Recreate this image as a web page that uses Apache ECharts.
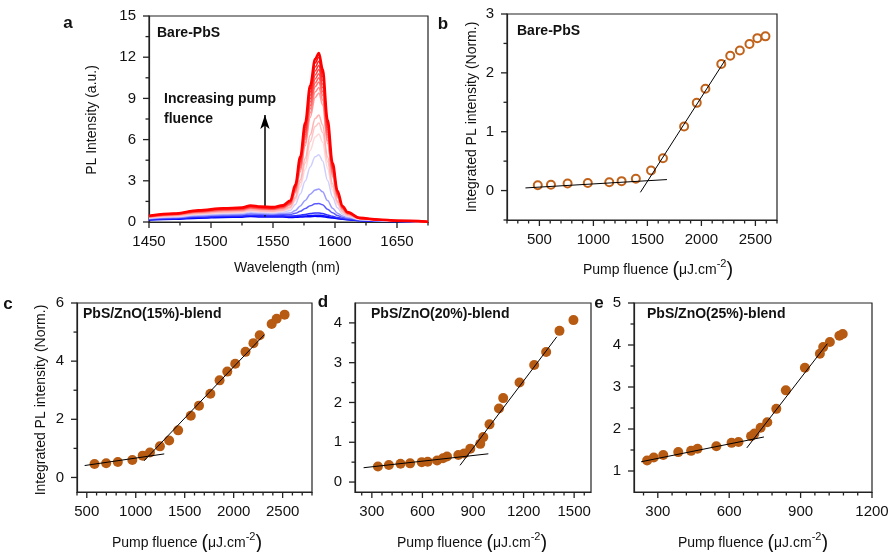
<!DOCTYPE html>
<html>
<head>
<meta charset="utf-8">
<script src="https://cdn.jsdelivr.net/npm/echarts@6/dist/echarts.min.js"></script>
<style>
  html, body { margin: 0; padding: 0; background: #ffffff; }
  #chart { width: 889px; height: 552px; }
</style>
</head>
<body>
<div id="chart"></div>
<script>
// ---- (a) PL spectra of bare PbS, lowest to highest pump fluence ----
const wavelengths = [1450,1470,1490,1510,1525,1532,1540,1550,1558,1564,1568,1572,1576,1580,1584,1587,1590,1594,1598,1602,1606,1610,1620,1635,1650,1675];
const spectra = [
  [0.15,0.20,0.28,0.33,0.35,0.40,0.37,0.36,0.36,0.33,0.34,0.36,0.38,0.39,0.41,0.40,0.39,0.33,0.29,0.24,0.20,0.17,0.10,0.06,0.03,0.01],
  [0.17,0.24,0.32,0.38,0.40,0.46,0.43,0.41,0.42,0.39,0.40,0.42,0.44,0.47,0.49,0.50,0.47,0.40,0.34,0.28,0.23,0.19,0.11,0.07,0.04,0.01],
  [0.19,0.26,0.36,0.42,0.44,0.50,0.47,0.45,0.46,0.43,0.45,0.50,0.55,0.61,0.65,0.65,0.61,0.51,0.41,0.33,0.26,0.21,0.13,0.08,0.04,0.01],
  [0.23,0.31,0.43,0.50,0.53,0.60,0.56,0.54,0.56,0.55,0.63,0.78,0.98,1.18,1.32,1.35,1.25,0.93,0.67,0.47,0.35,0.27,0.15,0.09,0.05,0.01],
  [0.25,0.34,0.47,0.55,0.58,0.66,0.62,0.59,0.63,0.65,0.83,1.17,1.57,2.02,2.33,2.40,2.20,1.56,1.01,0.64,0.43,0.32,0.17,0.10,0.06,0.01],
  [0.28,0.38,0.53,0.62,0.65,0.74,0.69,0.67,0.72,0.84,1.27,2.04,2.98,4.01,4.75,4.90,4.45,3.03,1.82,1.03,0.59,0.40,0.19,0.11,0.06,0.01],
  [0.31,0.42,0.58,0.68,0.71,0.82,0.76,0.73,0.81,0.97,1.54,2.57,3.83,5.21,6.19,6.40,5.81,3.92,2.31,1.27,0.70,0.46,0.20,0.12,0.07,0.01],
  [0.32,0.45,0.61,0.72,0.76,0.86,0.81,0.78,0.86,1.05,1.70,2.86,4.29,5.85,6.95,7.20,6.52,4.40,2.58,1.41,0.76,0.49,0.22,0.13,0.07,0.01],
  [0.34,0.47,0.64,0.75,0.79,0.90,0.84,0.81,0.90,1.11,1.81,3.08,4.64,6.34,7.53,7.80,7.07,4.75,2.78,1.51,0.81,0.52,0.23,0.14,0.08,0.02],
  [0.37,0.51,0.70,0.82,0.86,0.98,0.92,0.89,0.99,1.26,2.11,3.66,5.55,7.61,9.07,9.40,8.52,5.71,3.32,1.78,0.93,0.58,0.25,0.15,0.08,0.02],
  [0.38,0.52,0.71,0.84,0.88,1.01,0.94,0.91,1.01,1.29,2.18,3.81,5.77,7.93,9.46,9.80,8.88,5.94,3.44,1.84,0.95,0.60,0.25,0.15,0.08,0.02],
  [0.39,0.53,0.73,0.86,0.90,1.03,0.96,0.93,1.04,1.33,2.26,3.95,6.00,8.24,9.84,10.20,9.23,6.18,3.58,1.90,0.99,0.62,0.26,0.15,0.09,0.02],
  [0.40,0.55,0.75,0.88,0.92,1.06,0.99,0.95,1.07,1.37,2.32,4.05,6.18,8.48,10.12,10.50,9.51,6.35,3.68,1.96,1.02,0.63,0.26,0.16,0.09,0.02],
  [0.41,0.56,0.77,0.90,0.95,1.08,1.01,0.97,1.09,1.40,2.38,4.17,6.36,8.73,10.42,10.80,9.79,6.54,3.79,2.01,1.04,0.65,0.27,0.16,0.09,0.02],
  [0.41,0.57,0.78,0.92,0.97,1.10,1.03,0.99,1.11,1.44,2.45,4.28,6.53,8.97,10.71,11.10,10.05,6.72,3.89,2.07,1.07,0.67,0.28,0.17,0.09,0.02],
  [0.42,0.58,0.80,0.94,0.99,1.13,1.05,1.02,1.14,1.47,2.51,4.39,6.69,9.22,11.00,11.40,10.32,6.89,3.99,2.12,1.09,0.68,0.28,0.17,0.09,0.02],
  [0.43,0.60,0.82,0.96,1.01,1.15,1.08,1.04,1.17,1.50,2.57,4.51,6.87,9.45,11.28,11.70,10.59,7.07,4.09,2.17,1.12,0.70,0.29,0.17,0.10,0.02],
  [0.44,0.61,0.83,0.98,1.03,1.18,1.10,1.06,1.19,1.54,2.63,4.62,7.05,9.70,11.57,12.00,10.86,7.25,4.20,2.23,1.15,0.71,0.29,0.18,0.10,0.02],
  [0.45,0.62,0.85,1.00,1.05,1.20,1.12,1.08,1.21,1.57,2.70,4.74,7.22,9.94,11.86,12.30,11.14,7.44,4.30,2.28,1.17,0.73,0.30,0.18,0.10,0.02]
];
const spectrumColors = ['#0000ff','#1010ff','#3030ff','#5a5aff','#9a9aff','#cfcfff','#ffd8d8','#ffc4c4','#ffb2b2','#ff9c9c','#ff8888','#ff7474','#ff6262','#ff5050','#ff4040','#ff3030','#ff2020','#ff1010','#ff0000'];
const arrowX = [1543.5, 1543.5];
const arrowY = [0.4, 7.8];

// ---- (b) bare PbS, integrated PL vs pump fluence ----
const fluenceBare = [485,607,761,948,1147,1261,1393,1534,1644,1840,1957,2037,2184,2267,2356,2445,2518,2593];
const plBare = [0.09,0.10,0.12,0.13,0.14,0.16,0.20,0.34,0.55,1.09,1.49,1.73,2.15,2.29,2.38,2.49,2.59,2.62];
const fitBareLowX = [371, 1681], fitBareLowY = [0.045, 0.187];
const fitBareHighX = [1435, 2221], fitBareHighY = [-0.03, 2.22];

// ---- (c) PbS/ZnO(15%) blend ----
const fluence15 = [579,698,817,965,1071,1145,1247,1341,1433,1562,1646,1762,1856,1935,2016,2121,2202,2266,2388,2439,2520];
const pl15 = [0.46,0.49,0.53,0.60,0.75,0.86,1.07,1.27,1.62,2.12,2.47,2.88,3.34,3.64,3.91,4.32,4.62,4.89,5.28,5.46,5.60];
const fit15LowX = [478, 1291], fit15LowY = [0.41, 0.81];
const fit15HighX = [1084, 2313], fit15HighY = [0.57, 4.91];

// ---- (d) PbS/ZnO(20%) blend ----
const fluence20 = [336,401,470,527,596,631,687,722,746,813,848,884,943,961,998,1054,1079,1176,1263,1334,1413,1496];
const pl20 = [0.39,0.43,0.46,0.47,0.50,0.51,0.54,0.60,0.64,0.68,0.72,0.84,0.96,1.13,1.45,1.85,2.11,2.50,2.94,3.27,3.80,4.07];
const fit20LowX = [251, 991], fit20LowY = [0.36, 0.71];
const fit20HighX = [823, 1397], fit20HighY = [0.42, 3.65];

// ---- (e) PbS/ZnO(25%) blend ----
const fluence25 = [255,283,323,386,440,467,546,610,639,692,706,732,760,798,838,918,981,995,1023,1063,1077];
const pl25 = [1.25,1.32,1.38,1.45,1.48,1.53,1.59,1.67,1.69,1.83,1.89,2.03,2.16,2.48,2.92,3.46,3.79,3.95,4.07,4.22,4.26];
const fit25LowX = [230, 746], fit25LowY = [1.22, 1.81];
const fit25HighX = [674, 1012], fit25HighY = [1.55, 4.03];

// ---- axis ranges and tick values per panel ----
const rangeX = [[1450, 1675], [200, 2700], [400, 2800], [200, 1600], [200, 1200]];
const rangeY = [[0, 15], [-0.5, 3], [-0.5, 6], [-0.25, 4.5], [0.5, 5]];
const majorX = [
  [1450,1500,1550,1600,1650],
  [500,1000,1500,2000,2500],
  [500,1000,1500,2000,2500],
  [300,600,900,1200,1500],
  [300,600,900,1200]
];
const minorX = [
  [1475,1525,1575,1625,1675],
  [200,300,400,600,700,800,900,1100,1200,1300,1400,1600,1700,1800,1900,2100,2200,2300,2400,2600,2700],
  [400,600,700,800,900,1100,1200,1300,1400,1600,1700,1800,1900,2100,2200,2300,2400,2600,2700,2800],
  [240,360,420,480,540,660,720,780,840,960,1020,1080,1140,1260,1320,1380,1440,1560],
  [240,360,420,480,540,660,720,780,840,960,1020,1080,1140]
];
const majorY = [[0,3,6,9,12,15], [0,1,2,3], [0,2,4,6], [0,1,2,3,4], [1,2,3,4,5]];
const minorY = [[1.5,4.5,7.5,10.5,13.5], [-0.5,0.5,1.5,2.5], [1,3,5], [0.5,1.5,2.5,3.5], [1.5,2.5,3.5,4.5]];

const FONT = '"Liberation Sans", Arial, sans-serif';
const AXIS_COLOR = '#222';
const DOT_COLOR = '#b75a12';

const grids = [
  { left: 149, top: 16, width: 279, height: 206 },
  { left: 507, top: 14, width: 270, height: 206 },
  { left: 77, top: 303, width: 235, height: 189 },
  { left: 355, top: 303, width: 236, height: 189 },
  { left: 634, top: 303, width: 238, height: 189 }
].map(g => Object.assign(g, {
  show: true, borderColor: AXIS_COLOR, borderWidth: 1.2, backgroundColor: 'transparent',
  containLabel: false, outerBoundsMode: 'none'
}));

function makeAxis(gridIndex, position, range, labels, margin) {
  return {
    type: 'value', gridIndex, position, min: range[0], max: range[1],
    axisLine: { show: true, onZero: false, lineStyle: { color: AXIS_COLOR, width: 1.2 } },
    axisTick: { show: false },
    axisLabel: {
      show: true, customValues: labels, fontSize: 15, color: '#111', fontFamily: FONT, margin,
      formatter: v => String(v)
    },
    splitLine: { show: false }
  };
}
const xAxis = rangeX.map((r, i) => makeAxis(i, 'bottom', r, majorX[i], 12));
const yAxis = rangeY.map((r, i) => makeAxis(i, 'left', r, majorY[i], 13));

const zip = (xs, ys) => xs.map((x, i) => [x, ys[i]]);
const series = [];

// outward axis ticks, placed through each panel's own scales
const MAJOR_LEN = 6, MINOR_LEN = 3.5;
rangeX.forEach((rx, i) => {
  const ry = rangeY[i];
  const data = []
    .concat(majorX[i].map(v => [v, ry[0], MAJOR_LEN, 0]))
    .concat(minorX[i].map(v => [v, ry[0], MINOR_LEN, 0]))
    .concat(majorY[i].map(v => [rx[0], v, MAJOR_LEN, 1]))
    .concat(minorY[i].map(v => [rx[0], v, MINOR_LEN, 1]));
  series.push({
    type: 'custom', xAxisIndex: i, yAxisIndex: i, clip: false, silent: true, z: 20,
    data,
    renderItem: (params, api) => {
      const p = api.coord([api.value(0), api.value(1)]);
      const len = api.value(2);
      const vertical = api.value(3) === 1;
      return {
        type: 'line',
        shape: vertical
          ? { x1: p[0], y1: p[1], x2: p[0] - len, y2: p[1] }
          : { x1: p[0], y1: p[1], x2: p[0], y2: p[1] + len },
        style: { stroke: AXIS_COLOR, lineWidth: 1.3 }
      };
    }
  });
});

// spectra
spectra.forEach((curve, k) => {
  series.push({
    type: 'line', xAxisIndex: 0, yAxisIndex: 0,
    data: zip(wavelengths, curve),
    smooth: 0.35, smoothMonotone: 'x', showSymbol: false, symbol: 'none',
    lineStyle: { color: spectrumColors[k], width: k === spectra.length - 1 ? 2.6 : 1.5 },
    z: 2 + k
  });
});
// rising-fluence arrow
series.push({
  type: 'line', xAxisIndex: 0, yAxisIndex: 0, data: [], z: 40,
  markLine: {
    silent: true, animation: false,
    symbol: ['none', 'arrow'], symbolSize: [7, 14],
    lineStyle: { color: '#000', width: 1.5, type: 'solid' },
    label: { show: false },
    data: [[{ coord: [arrowX[0], arrowY[0]] }, { coord: [arrowX[1], arrowY[1]] }]]
  }
});

function scatter(gi, xs, ys, hollow) {
  return {
    type: 'scatter', xAxisIndex: gi, yAxisIndex: gi,
    data: zip(xs, ys), symbol: 'circle',
    symbolSize: hollow ? 8 : 10,
    itemStyle: hollow
      ? { color: '#ffffff', borderColor: '#c0621a', borderWidth: 2, opacity: 1 }
      : { color: DOT_COLOR, opacity: 1 },
    z: 3
  };
}
function fitLine(gi, xs, ys) {
  return {
    type: 'line', xAxisIndex: gi, yAxisIndex: gi,
    data: zip(xs, ys), symbol: 'none', showSymbol: false,
    lineStyle: { color: '#000', width: 1 }, z: 5
  };
}
series.push(
  scatter(1, fluenceBare, plBare, true),
  fitLine(1, fitBareLowX, fitBareLowY), fitLine(1, fitBareHighX, fitBareHighY),
  scatter(2, fluence15, pl15, false),
  fitLine(2, fit15LowX, fit15LowY), fitLine(2, fit15HighX, fit15HighY),
  scatter(3, fluence20, pl20, false),
  fitLine(3, fit20LowX, fit20LowY), fitLine(3, fit20HighX, fit20HighY),
  scatter(4, fluence25, pl25, false),
  fitLine(4, fit25LowX, fit25LowY), fitLine(4, fit25HighX, fit25HighY)
);

// text annotations
function txt(text, x, y, size, bold, align) {
  return { type: 'text', x, y, silent: true, z: 50,
    style: { text, fontSize: size, fontWeight: bold ? 'bold' : 'normal', fontFamily: FONT,
             fill: '#111', align: align || 'left', verticalAlign: 'middle' } };
}
function yTitle(text, x, y) {
  return { type: 'text', x, y, rotation: Math.PI / 2, silent: true, z: 50,
    style: { text, fontSize: 14, fontFamily: FONT, fill: '#111', align: 'center', verticalAlign: 'middle' } };
}
function fluenceTitle(x, y) {
  return { type: 'text', x, y, silent: true, z: 50,
    style: {
      text: '{a|Pump fluence }{p|(}{a|\u03bcJ.cm}{s|-2}{p|)}',
      align: 'center', verticalAlign: 'middle', fill: '#111',
      rich: {
        a: { fontSize: 14, fontFamily: FONT, fill: '#111' },
        p: { fontSize: 20, fontFamily: FONT, fill: '#111' },
        s: { fontSize: 11, fontFamily: FONT, fill: '#111', padding: [0, 0, 12, 0] }
      }
    } };
}

const graphic = [
  txt('a', 68, 23, 17, true, 'center'),
  txt('b', 443, 24, 17, true, 'center'),
  txt('c', 8, 304, 17, true, 'center'),
  txt('d', 323, 302, 17, true, 'center'),
  txt('e', 599, 303, 17, true, 'center'),
  txt('Bare-PbS', 157, 33, 14, true),
  txt('Bare-PbS', 517, 31, 14, true),
  txt('PbS/ZnO(15%)-blend', 83, 314, 14, true),
  txt('PbS/ZnO(20%)-blend', 371, 314, 14, true),
  txt('PbS/ZnO(25%)-blend', 647, 314, 14, true),
  txt('Increasing pump', 164, 99, 14, true),
  txt('fluence', 164, 119, 14, true),
  txt('Wavelength (nm)', 287, 268, 14, false, 'center'),
  yTitle('PL Intensity (a.u.)', 92, 120),
  yTitle('Integrated PL intensity (Norm.)', 472, 117),
  yTitle('Integrated PL intensity (Norm.)', 41, 400),
  fluenceTitle(658, 270),
  fluenceTitle(187, 543),
  fluenceTitle(472, 543),
  fluenceTitle(753, 543)
];

const chart = echarts.init(document.getElementById('chart'), null, { renderer: 'canvas' });
chart.setOption({
  animation: false,
  backgroundColor: '#ffffff',
  textStyle: { fontFamily: FONT },
  grid: grids,
  xAxis, yAxis, series, graphic
});
</script>
</body>
</html>
